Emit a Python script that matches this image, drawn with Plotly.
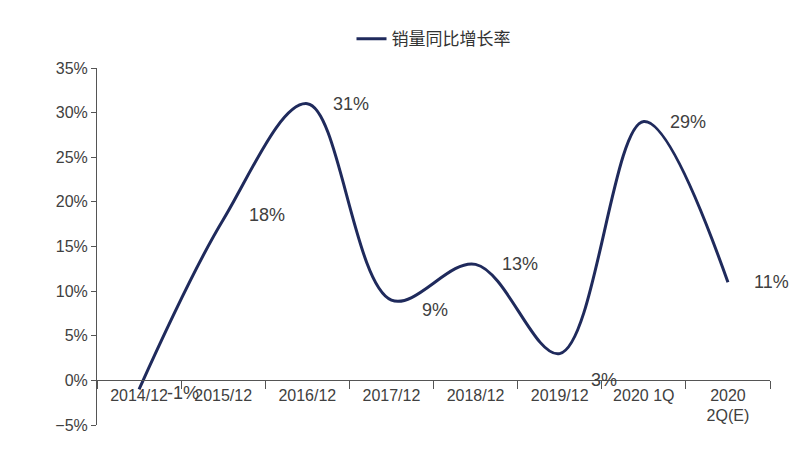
import plotly.graph_objects as go

periods = ["2014/12", "2015/12", "2016/12", "2017/12", "2018/12", "2019/12", "2020 1Q", "2020<br>2Q(E)"]
growth = [-1, 18, 31, 9, 13, 3, 29, 11]
label_text = ["-1%", "18%", "31%", "9%", "13%", "3%", "29%", "11%"]
label_dy = [-4, 5, 0, -10, 0, -26, 0, 0]

navy = "#1f2a5c"

fig = go.Figure()
fig.add_trace(go.Scatter(
    x=periods, y=growth, mode="lines", name="销量同比增长率",
    line=dict(color=navy, width=3, shape="spline", smoothing=1.0),
))

for p, v, t, dy in zip(periods, growth, label_text, label_dy):
    fig.add_annotation(x=p, y=v, text=t, showarrow=False, xshift=44, yshift=dy,
                       font=dict(size=18, color="#404040"))

fig.update_layout(
    width=800, height=454,
    margin=dict(l=89, r=38, t=60, b=37, autoexpand=False),
    paper_bgcolor="white", plot_bgcolor="white",
    font=dict(family="Liberation Sans, Arial", size=16, color="#404040"),
    showlegend=True,
    legend=dict(orientation="h", x=0.5, xanchor="center", y=1.03, yanchor="bottom",
                font=dict(family="Noto Sans CJK SC", size=17, color="#333")),
    xaxis=dict(type="category", range=[-0.5, 7.5], anchor="free", position=0.125, showline=True,
               linecolor="#555", linewidth=1, ticks="outside", tickson="boundaries",
               ticklen=8, tickcolor="#555", showgrid=False),
    yaxis=dict(range=[-5, 35], dtick=5, ticksuffix="%", showline=True, linecolor="#555",
               ticks="outside", ticklen=5, tickcolor="#555", showgrid=False, zeroline=False),
)

fig.write_html("out.html")
